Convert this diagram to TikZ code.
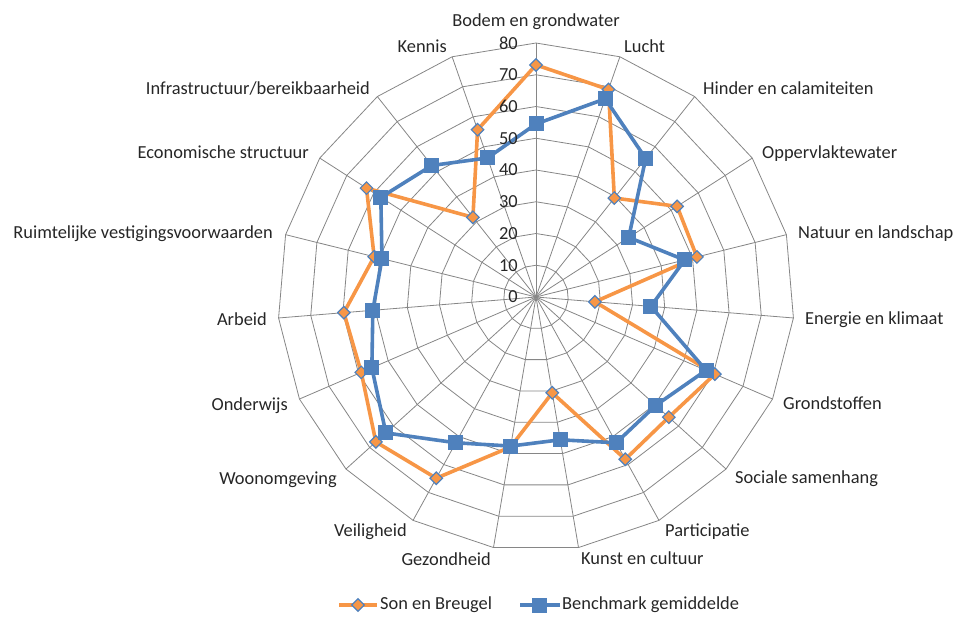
\documentclass[tikz,border=0pt]{standalone}
\usepackage{fontspec}
\setmainfont{Carlito}
\usetikzlibrary{shapes.geometric}
\definecolor{sonorange}{RGB}{247,150,70}
\definecolor{benchblue}{RGB}{79,129,189}
\definecolor{gridgray}{RGB}{134,134,134}
\definecolor{labeltext}{RGB}{38,38,38}
\tikzset{
	gridline/.style={gridgray,line width=0.8pt},
	sonline/.style={sonorange,line width=3.6pt,line join=round},
	benchline/.style={benchblue,line width=3.6pt,line join=round},
	sonmark/.style={diamond,inner sep=0pt,minimum size=13pt,fill=sonorange,draw=benchblue,line width=1.2pt},
	benchmark/.style={rectangle,inner sep=0pt,minimum size=15pt,fill=benchblue},
	axlabel/.style={font=\fontsize{18.4}{21}\selectfont,text=labeltext,inner sep=0pt},
	ticklabel/.style={axlabel,anchor=east}
}

\begin{document}
\begin{tikzpicture}[x=1pt,y=-1pt]
	\useasboundingbox (0,0) rectangle (962,619);
	\begin{scope}[shift={(536,297)},xscale=1.017]
		\coordinate (ctr) at (0,0);
		\foreach \k in {0,...,18}
			\draw [gridline] (ctr) -- ({-90+\k*360/19}:254);
		\foreach \r in {1,...,8}
			\draw [gridline] (-90:{\r*31.75}) \foreach \k in {1,...,18}{ -- ({-90+\k*360/19}:{\r*31.75})} -- cycle;

		\foreach \v [count=\k from 0] in {73.1,69.1,39.5,52.2,51.4,18.3,60.5,55.9,58.1,30.6,47.9,64.9,67.4,59.1,59.7,51.7,62.7,31.8,55.7}
			\coordinate (s\k) at ({-90+\k*360/19}:{\v*3.175});
		\foreach \v [count=\k from 0] in {54.5,66,55.3,34.3,47.5,35.7,57.5,50.4,52.2,45.6,47.6,52.2,63.2,55.5,50.7,49.2,57.4,52.5,46.3}
			\coordinate (b\k) at ({-90+\k*360/19}:{\v*3.175});

		\draw [sonline] (s0) \foreach \k in {1,...,18}{ -- (s\k)} -- cycle;
		\foreach \k in {0,...,18}
			\node [sonmark] (sm\k) at (s\k) {};
		\draw [benchline] (b0) \foreach \k in {1,...,18}{ -- (b\k)} -- cycle;
		\foreach \k in {0,...,18}
			\node [benchmark] (bm\k) at (b\k) {};
	\end{scope}

	\foreach \t in {0,10,...,80}
		\node [ticklabel] (t\t) at (518,{297-\t*3.175}) {\t};

	\node [axlabel,anchor=base] (l0) at (536,26) {Bodem en grondwater};
	\node [axlabel,anchor=base west] (l1) at (624,52) {Lucht};
	\node [axlabel,anchor=base west] (l2) at (703,94) {Hinder en calamiteiten};
	\node [axlabel,anchor=base west] (l3) at (762,158) {Oppervlaktewater};
	\node [axlabel,anchor=base west] (l4) at (798,238) {Natuur en landschap};
	\node [axlabel,anchor=base west] (l5) at (805,324) {Energie en klimaat};
	\node [axlabel,anchor=base west] (l6) at (783,409) {Grondstoffen};
	\node [axlabel,anchor=base west] (l7) at (735,483) {Sociale samenhang};
	\node [axlabel,anchor=base west] (l8) at (665,536) {Participatie};
	\node [axlabel,anchor=base west] (l9) at (581,564) {Kunst en cultuur};
	\node [axlabel,anchor=base east] (l10) at (491,565) {Gezondheid};
	\node [axlabel,anchor=base east] (l11) at (407,536) {Veiligheid};
	\node [axlabel,anchor=base east] (l12) at (337,484) {Woonomgeving};
	\node [axlabel,anchor=base east] (l13) at (288,410) {Onderwijs};
	\node [axlabel,anchor=base east] (l14) at (267,325) {Arbeid};
	\node [axlabel,anchor=base east] (l15) at (273,238) {Ruimtelijke vestigingsvoorwaarden};
	\node [axlabel,anchor=base east] (l16) at (309,158) {Economische structuur};
	\node [axlabel,anchor=base east] (l17) at (370,94) {Infrastructuur/bereikbaarheid};
	\node [axlabel,anchor=base east] (l18) at (447,52) {Kennis};

	\coordinate (lsa) at (339,605);
	\coordinate (lsb) at (377,605);
	\draw [sonline] (lsa) -- (lsb);
	\node [sonmark] (lsm) at (358,605) {};
	\node [axlabel,anchor=base west] (lst) at (380,609) {Son en Breugel};
	\coordinate (lba) at (520,605);
	\coordinate (lbb) at (560,605);
	\draw [benchline] (lba) -- (lbb);
	\node [benchmark] (lbm) at (539,605) {};
	\node [axlabel,anchor=base west] (lbt) at (562,609) {Benchmark gemiddelde};
\end{tikzpicture}
\end{document}
